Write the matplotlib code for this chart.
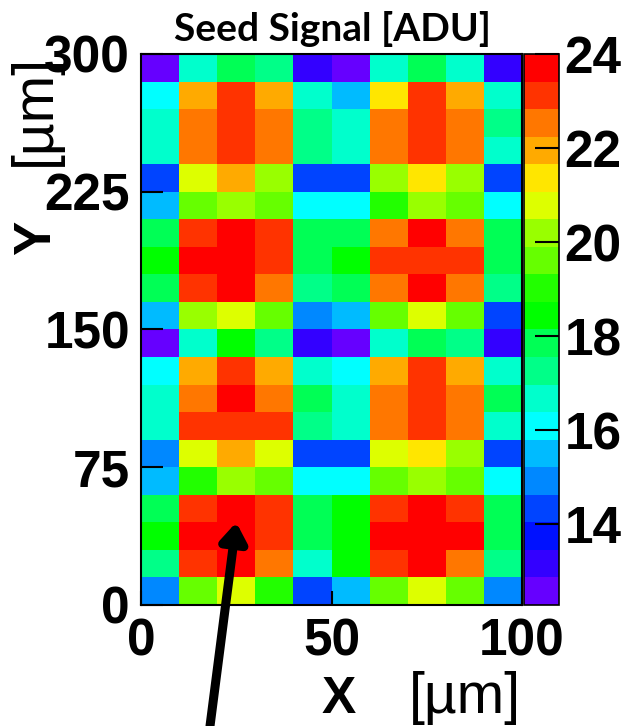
import numpy as np
import matplotlib
matplotlib.use("Agg")
import matplotlib.pyplot as plt
from matplotlib.colors import ListedColormap, Normalize

# Pixel grid (cell edges in micrometres)
x_edges = [0, 10, 20, 30, 40, 50, 60, 70, 80, 90, 100]
y_edges = [0, 15, 30, 45, 60, 75, 90, 105, 120, 135, 150,
           165, 180, 195, 210, 225, 240, 255, 270, 285, 300]

# Seed signal per pixel [ADU], listed from the top row (y = 300) downwards
seed_signal = [
    [12.6, 16.7, 17.8, 17.3, 13.2, 12.6, 16.7, 17.8, 16.7, 13.2],
    [16.1, 21.9, 23.1, 21.9, 16.7, 15.5, 21.4, 23.1, 21.9, 16.7],
    [16.7, 22.5, 23.1, 22.5, 17.3, 16.7, 22.5, 23.1, 22.5, 17.3],
    [16.7, 22.5, 23.1, 22.5, 17.3, 16.7, 22.5, 23.1, 22.5, 16.7],
    [14.3, 20.8, 21.9, 20.2, 14.3, 14.3, 20.2, 21.4, 20.2, 14.3],
    [15.5, 19.6, 20.2, 19.6, 16.1, 16.1, 19.0, 20.2, 19.6, 16.1],
    [17.8, 23.1, 23.7, 23.1, 17.8, 17.8, 22.5, 23.7, 22.5, 17.8],
    [18.4, 23.7, 23.7, 23.1, 17.8, 18.4, 23.1, 23.1, 23.1, 17.8],
    [17.8, 23.1, 23.7, 22.5, 17.3, 17.8, 22.5, 23.7, 22.5, 17.3],
    [15.5, 20.2, 20.8, 19.6, 14.9, 15.5, 19.6, 20.8, 19.6, 14.3],
    [12.6, 16.7, 18.4, 17.3, 13.2, 12.6, 16.7, 17.8, 17.3, 13.2],
    [16.1, 21.9, 23.1, 21.9, 16.7, 16.1, 21.9, 23.1, 21.9, 16.7],
    [16.7, 22.5, 23.7, 22.5, 17.8, 16.7, 22.5, 23.1, 22.5, 17.8],
    [16.7, 23.1, 23.1, 23.1, 17.3, 16.7, 22.5, 23.1, 22.5, 16.7],
    [14.9, 20.8, 21.9, 20.8, 14.3, 14.3, 20.8, 21.4, 20.2, 14.3],
    [15.5, 19.0, 20.2, 19.6, 16.1, 16.1, 19.6, 20.2, 19.6, 16.1],
    [17.8, 23.1, 23.7, 23.1, 17.8, 18.4, 23.1, 23.7, 23.1, 17.8],
    [18.4, 23.7, 23.7, 23.1, 17.8, 18.4, 23.7, 23.7, 23.7, 17.8],
    [17.3, 23.1, 23.7, 22.5, 16.7, 18.4, 23.1, 23.7, 22.5, 17.3],
    [14.9, 19.6, 20.8, 19.0, 14.3, 15.5, 19.6, 20.8, 19.6, 14.9],
]

x_ticks = [0, 50, 100]
y_ticks = [0, 75, 150, 225, 300]
z_ticks = [14, 16, 18, 20, 22, 24]
z_min, z_max = 12.28, 24.0

# 20-step rainbow palette (violet -> red)
palette = ["#6600ff", "#3300ff", "#0011ff", "#0044ff", "#0088ff",
           "#00bbff", "#00ffff", "#00ffcc", "#00ff88", "#00ff55",
           "#00ff00", "#22ff00", "#66ff00", "#99ff00", "#ddff00",
           "#ffe600", "#ffaa00", "#ff7700", "#ff3300", "#ff0000"]

W, H = 629, 726
fig = plt.figure(figsize=(W / 100, H / 100), dpi=100)


def fx(px):
    return px / W


def fy(py):
    return 1 - py / H


tick_font = dict(family="Liberation Sans", weight="bold", size=37)

ax = fig.add_axes([fx(141), fy(605), fx(522) - fx(141), fy(54) - fy(605)])
values = np.flipud(np.array(seed_signal))
mesh = ax.pcolormesh(x_edges, y_edges, values,
                     cmap=ListedColormap(palette),
                     norm=Normalize(vmin=z_min, vmax=z_max))
ax.set_xlim(0, 100)
ax.set_ylim(0, 300)
ax.set_xticks(x_ticks)
ax.set_yticks(y_ticks)
ax.set_xticklabels([str(t) for t in x_ticks], fontdict=tick_font)
ax.set_yticklabels([str(t) for t in y_ticks], fontdict=tick_font)
ax.tick_params(axis="y", direction="in", length=16, width=1.5, pad=8)
ax.tick_params(axis="x", direction="in", length=10, width=1.5, pad=9)
for s in ax.spines.values():
    s.set_linewidth(1.5)

cax = fig.add_axes([fx(524), fy(605), fx(559) - fx(524), fy(54) - fy(605)])
cb = fig.colorbar(mesh, cax=cax, ticks=z_ticks)
cb.outline.set_linewidth(1.2)
cax.tick_params(direction="in", length=17, width=1.5, pad=4)
cax.set_yticklabels([str(t) for t in z_ticks], fontdict=tick_font)

# Title
fig.text(fx(333), fy(41), "Seed Signal [ADU]", ha="center", va="baseline",
         family="Lato", weight="bold", size=28)

# Axis labels
fig.text(fx(339), fy(713), "X", ha="center", va="baseline",
         family="Liberation Sans", weight="bold", size=37)
fig.text(fx(521), fy(713), "[\u00b5m]", ha="right", va="baseline",
         family="Liberation Sans", size=41)
fig.text(fx(50), fy(238), "Y", ha="center", va="baseline", rotation=90,
         rotation_mode="anchor", family="Liberation Sans", weight="bold", size=37)
fig.text(fx(50), fy(54), "[\u00b5m]", ha="right", va="baseline", rotation=90,
         rotation_mode="anchor", family="Liberation Sans", size=41)

# Pointer to the central pixel
ax.annotate("", xy=(25, 45), xycoords="data",
            xytext=(fx(210), 0), textcoords="figure fraction",
            arrowprops=dict(arrowstyle="-|>,head_length=0.5,head_width=0.35",
                            color="black", lw=6.5, mutation_scale=22,
                            shrinkA=0, shrinkB=0),
            annotation_clip=False)

fig.savefig("out.png", dpi=100)
